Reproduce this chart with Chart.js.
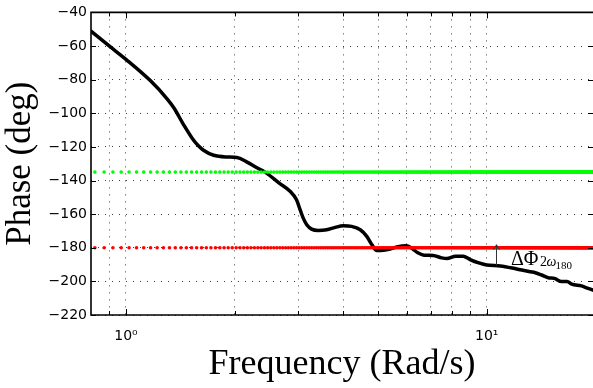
<!DOCTYPE html>
<html>
<head>
<meta charset="utf-8">
<script src="https://cdn.jsdelivr.net/npm/chart.js@4/dist/chart.umd.min.js"></script>
<style>
  html, body { margin: 0; padding: 0; background: #fff; }
  canvas { display: block; }
</style>
</head>
<body>
<canvas id="bode" width="593" height="388"></canvas>
<script>
const freq = [0.80, 0.90, 1.00, 1.17, 1.30, 1.36, 1.44, 1.54, 1.59, 1.64, 1.75, 1.90, 2.03, 2.16,
  2.30, 2.43, 2.67, 2.85, 2.97, 3.04, 3.10, 3.17, 3.27, 3.41, 3.60, 3.80, 4.00, 4.22, 4.46, 4.65,
  4.80, 4.96, 5.17, 5.40, 5.63, 6.00, 6.26, 6.44, 6.70, 7.10, 7.50, 7.75, 8.20, 8.60, 8.99, 9.50,
  10.0, 10.9, 12.1, 13.0, 13.5, 14.2, 14.8, 15.4, 16.1, 16.7, 17.2, 18.3, 19.0, 19.7];
const phase = [-51.2, -60.1, -67.9, -80.7, -91.4, -97.0, -106.3, -116.1, -119.5, -122.0, -125.0, -126.0, -126.3, -128.9,
  -132.3, -135.0, -141.8, -146.4, -151.5, -157.5, -162.4, -166.3, -168.9, -169.7, -169.3, -167.9, -166.9, -167.3, -169.3, -173.2,
  -178.1, -181.7, -181.5, -180.7, -179.5, -178.8, -181.0, -183.0, -184.4, -184.6, -186.0, -186.4, -185.0, -185.0, -187.0, -189.0,
  -190.3, -190.8, -192.6, -194.0, -194.6, -196.2, -197.8, -198.2, -200.1, -200.0, -201.7, -202.7, -204.0, -205.2];

// reference levels, plotted as dots on a linear frequency grid
const marginLevel = -135;
const criticalLevel = -180;
const refStart = 0.82;
const refStop = 19.75;
const refStep = 0.05;

// phase margin arrow at twice the crossover
const marginFreq = 10.6;
const marginPhase = -190.5;

const xMin = 0.8;
const xMax = 19.7;
const xGridTicks = [0.9, 1, 2, 3, 4, 5, 6, 7, 8, 9, 10];
const xTickLabels = { 1: '10\u2070', 10: '10\u00b9' };
const yTicks = [-220, -200, -180, -160, -140, -120, -100, -80, -60, -40];

const refFreq = [];
for (let f = refStart; f <= refStop + 1e-9; f += refStep) refFreq.push(+f.toFixed(2));

const framePlugin = {
  id: 'frame',
  afterDatasetsDraw(chart) {
    const { ctx, chartArea: a, scales: { x, y } } = chart;
    ctx.save();
    ctx.strokeStyle = '#000';

    // inner tick marks
    ctx.lineWidth = 1;
    ctx.beginPath();
    xGridTicks.forEach(v => {
      const px = Math.round(x.getPixelForValue(v)) + 0.5;
      const len = xTickLabels[v] ? 6 : 4;
      ctx.moveTo(px, a.bottom); ctx.lineTo(px, a.bottom - len);
      ctx.moveTo(px, a.top); ctx.lineTo(px, a.top + len);
    });
    yTicks.forEach(v => {
      const py = Math.round(y.getPixelForValue(v)) + 0.5;
      ctx.moveTo(a.left, py); ctx.lineTo(a.left + 5, py);
      ctx.moveTo(a.right, py); ctx.lineTo(a.right - 5, py);
    });
    ctx.stroke();

    // box
    ctx.lineWidth = 1.6;
    ctx.beginPath();
    ctx.moveTo(a.right, a.top); ctx.lineTo(a.left, a.top);
    ctx.lineTo(a.left, a.bottom); ctx.lineTo(a.right, a.bottom);
    ctx.stroke();

    // margin arrow
    const ax = Math.round(x.getPixelForValue(marginFreq)) + 0.5;
    const y0 = y.getPixelForValue(marginPhase);
    const y1 = y.getPixelForValue(criticalLevel) - 3;
    ctx.strokeStyle = '#333';
    ctx.lineWidth = 1;
    ctx.beginPath();
    ctx.moveTo(ax, y0); ctx.lineTo(ax, y1);
    ctx.moveTo(ax - 3, y1 + 5); ctx.lineTo(ax, y1); ctx.lineTo(ax + 3, y1 + 5);
    ctx.stroke();

    // label: delta Phi with subscript 2 omega_180
    const base = y.getPixelForValue(criticalLevel);
    ctx.fillStyle = '#000';
    ctx.textBaseline = 'alphabetic';
    ctx.font = '20px "Liberation Serif"';
    ctx.fillText('\u0394\u03a6', ax + 14.5, base + 17);
    ctx.font = '14px "Liberation Serif"';
    ctx.fillText('2', ax + 43.5, base + 18);
    ctx.font = 'italic 14px "Liberation Serif"';
    ctx.fillText('\u03c9', ax + 50, base + 18);
    ctx.font = '11px "Liberation Serif"';
    ctx.fillText('180', ax + 59, base + 21);
    ctx.restore();
  }
};

new Chart(document.getElementById('bode'), {
  type: 'scatter',
  data: {
    datasets: [
      {
        label: 'critical',
        data: refFreq.map(f => ({ x: f, y: criticalLevel })),
        showLine: false,
        pointRadius: 1.8,
        pointBorderWidth: 0,
        pointBackgroundColor: '#ff0000'
      },
      {
        label: 'margin',
        data: refFreq.map(f => ({ x: f, y: marginLevel })),
        showLine: false,
        pointRadius: 1.8,
        pointBorderWidth: 0,
        pointBackgroundColor: '#00ff00'
      },
      {
        label: 'phase',
        data: freq.map((f, i) => ({ x: f, y: phase[i] })),
        showLine: true,
        borderColor: '#000',
        borderWidth: 3.5,
        pointRadius: 0,
        cubicInterpolationMode: 'monotone',
        borderCapStyle: 'round',
        borderJoinStyle: 'round'
      }
    ]
  },
  options: {
    responsive: false,
    animation: false,
    devicePixelRatio: 1,
    layout: { autoPadding: false, padding: { top: 11, right: 0, left: 0, bottom: 0 } },
    plugins: { legend: { display: false }, tooltip: { enabled: false } },
    scales: {
      x: {
        type: 'logarithmic',
        min: xMin,
        max: xMax,
        afterBuildTicks: s => { s.ticks = xGridTicks.map(v => ({ value: v })); },
        afterFit: s => { s.height = 73; },
        ticks: {
          autoSkip: false,
          maxRotation: 0,
          padding: 13,
          color: '#000',
          font: { family: 'DejaVu Sans', size: 14 },
          callback: v => xTickLabels[v] || ''
        },
        grid: { color: 'rgba(0,0,0,0.75)', lineWidth: 1, drawTicks: false },
        border: { display: false, dash: [1, 6] },
        title: {
          display: true,
          text: 'Frequency (Rad/s)',
          color: '#000',
          font: { family: 'Liberation Serif', size: 36 },
          padding: { top: 0, bottom: 2 }
        }
      },
      y: {
        min: -220,
        max: -40,
        afterBuildTicks: s => { s.ticks = yTicks.map(v => ({ value: v })); },
        afterFit: s => { s.width = 91; },
        ticks: {
          padding: 4,
          color: '#000',
          font: { family: 'DejaVu Sans', size: 14 },
          callback: v => (v < 0 ? '\u2212' + Math.abs(v) : String(v))
        },
        grid: { color: 'rgba(0,0,0,0.75)', lineWidth: 1, drawTicks: false },
        border: { display: false, dash: [1, 6] },
        title: {
          display: true,
          text: 'Phase (deg)',
          color: '#000',
          font: { family: 'Liberation Serif', size: 35 },
          padding: { top: 0, bottom: 0 }
        }
      }
    }
  },
  plugins: [framePlugin]
});
</script>
</body>
</html>
